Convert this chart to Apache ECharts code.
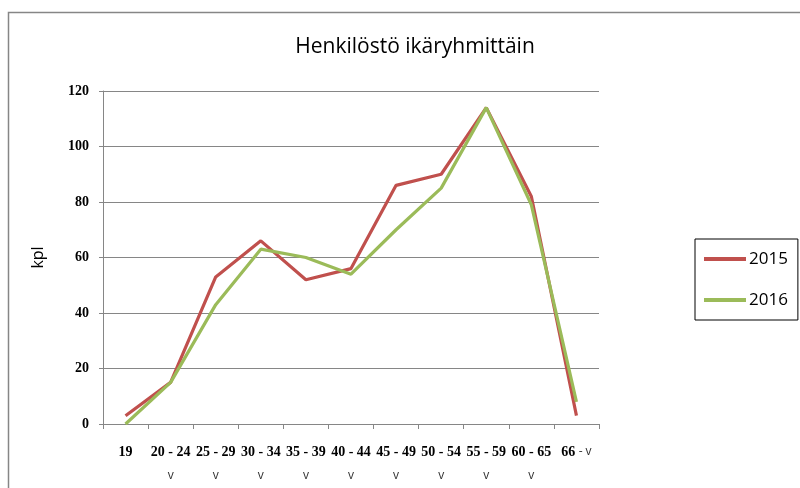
<!DOCTYPE html>
<html>
<head>
<meta charset="utf-8">
<script src="https://cdn.jsdelivr.net/npm/echarts@6/dist/echarts.min.js"></script>
<style>html,body{margin:0;padding:0;background:#fff;}#c{width:800px;height:488px;}</style>
</head>
<body>
<div id="c"></div>
<script>
const categories = ['19', '20 - 24\nv', '25 - 29\nv', '30 - 34\nv', '35 - 39\nv', '40 - 44\nv', '45 - 49\nv', '50 - 54\nv', '55 - 59\nv', '60 - 65\nv', '66 - v'];
const series2015 = [3, 15, 53, 66, 52, 56, 86, 90, 114, 82, 3];
const series2016 = [0, 15, 43, 63, 60, 54, 70, 85, 114, 79, 8];
const yTicks = [0, 20, 40, 60, 80, 100, 120];
const titleText = 'Henkilöstö ikäryhmittäin';
const yName = 'kpl';

const chart = echarts.init(document.getElementById('c'), null, {renderer: 'canvas'});
const labelFont = 'Liberation Serif';
chart.setOption({
  animation: false,
  backgroundColor: '#fff',
  graphic: [{
    type: 'rect', silent: true,
    shape: {x: 8.5, y: 12.5, width: 820, height: 500},
    style: {fill: 'none', stroke: '#868686', lineWidth: 1.5}
  }],
  title: {
    text: titleText, left: 410, top: 32, textAlign: 'center',
    textStyle: {fontFamily: 'Open Sans', fontSize: 21, fontWeight: 'normal', color: '#000'}
  },
  legend: {
    orient: 'vertical', left: 695, top: 239,
    padding: [10, 10, 10, 9],
    borderColor: '#000', borderWidth: 1,
    itemWidth: 42, itemHeight: 4, itemGap: 21,
    icon: 'rect',
    textStyle: {fontFamily: 'Open Sans', fontSize: 17, color: '#000', lineHeight: 20, padding: [0, 0, 0, -2]},
    data: ['2015', '2016']
  },
  grid: {left: 103, right: 201, top: 91, bottom: 64, containLabel: false},
  xAxis: {
    type: 'category', data: categories, boundaryGap: true,
    axisLine: {lineStyle: {color: '#868686', width: 1}},
    axisTick: {show: true, alignWithLabel: false, length: 5, lineStyle: {color: '#868686'}},
    axisLabel: {
      interval: 0, margin: 16, color: '#000',
      formatter: function (v) {
        if (v.indexOf('\n') >= 0) {
          const p = v.split('\n');
          return '{a|' + p[0] + '}\n{b|' + p[1] + '}';
        }
        if (v.indexOf(' - v') >= 0) {
          return '{a|' + v.replace(' - v', '') + '} {c|- v}';
        }
        return '{a|' + v + '}';
      },
      rich: {
        a: {fontFamily: labelFont, fontWeight: 'bold', fontSize: 14, color: '#000', lineHeight: 24},
        b: {fontFamily: 'Open Sans', fontSize: 12, color: '#333', lineHeight: 24},
        c: {fontFamily: 'Open Sans', fontSize: 12, color: '#333', lineHeight: 24}
      }
    }
  },
  yAxis: {
    type: 'value', min: 0, max: 120, interval: 20,
    name: yName, nameLocation: 'middle', nameGap: 57, nameRotate: 90,
    nameTextStyle: {fontFamily: 'Open Sans', fontSize: 16, color: '#000'},
    axisLine: {show: true, lineStyle: {color: '#868686', width: 1}},
    axisTick: {show: true, length: 4, lineStyle: {color: '#868686'}},
    axisLabel: {
      margin: 14, color: '#000', fontFamily: labelFont, fontWeight: 'bold', fontSize: 14,
      customValues: yTicks
    },
    splitLine: {show: true, lineStyle: {color: '#868686', width: 1}}
  },
  series: [
    {
      name: '2015', type: 'line', data: series2015, symbol: 'none',
      lineStyle: {color: '#C0504D', width: 3.2}, itemStyle: {color: '#C0504D'}
    },
    {
      name: '2016', type: 'line', data: series2016, symbol: 'none',
      lineStyle: {color: '#9BBB59', width: 3.2}, itemStyle: {color: '#9BBB59'}
    }
  ]
});
</script>
</body>
</html>
